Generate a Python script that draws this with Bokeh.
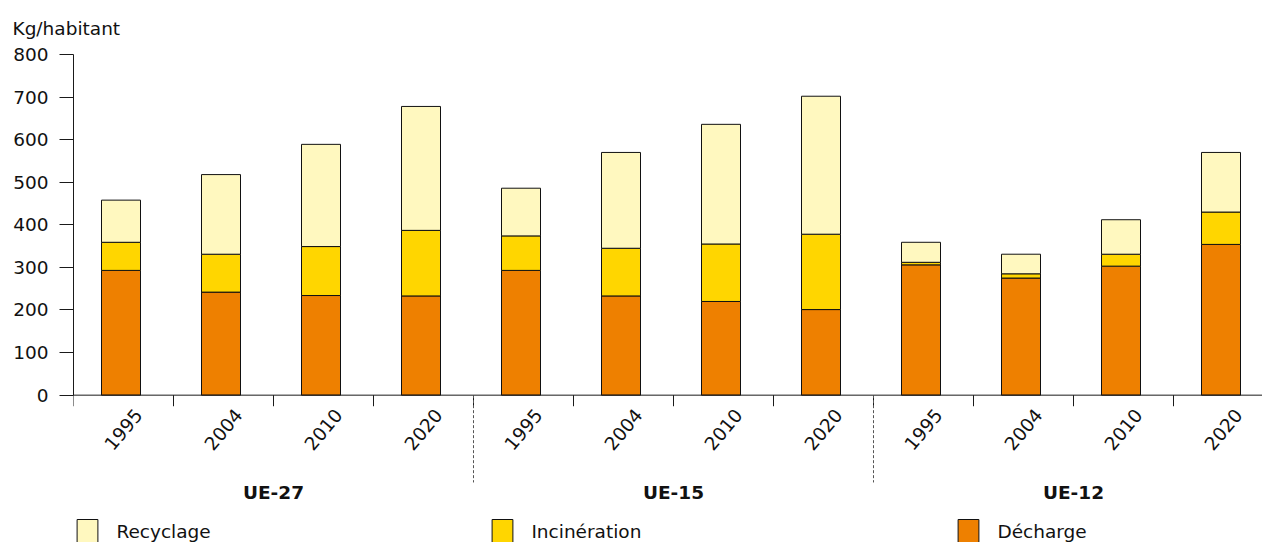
from bokeh.plotting import figure
from bokeh.models import (ColumnDataSource, Range1d, FixedTicker, Legend, LegendItem)
from bokeh.core.properties import value
from bokeh.embed import file_html
from bokeh.resources import INLINE

# ---- data (kg per inhabitant) ----
groups = ["UE-27", "UE-15", "UE-12"]
years = ["1995", "2004", "2010", "2020"]
decharge = [293, 242, 234, 233, 293, 233, 220, 201, 306, 275, 303, 354]
incineration = [66, 89, 115, 154, 81, 112, 135, 177, 6, 10, 28, 76]
recyclage = [99, 187, 240, 291, 112, 225, 281, 324, 47, 46, 81, 140]
series_labels = ["Décharge", "Incinération", "Recyclage"]
y_ticks = [0, 100, 200, 300, 400, 500, 600, 700, 800]

FONT = "DejaVu Sans"
FS = "18.5px"
TXT = "#111111"
colors = ["#EE8000", "#FFD600", "#FFF8BF"]

n = len(groups) * len(years)
idx = list(range(n))
bar_x = [i + 0.475 for i in idx]
year_labels = years * len(groups)

src = ColumnDataSource(dict(x=bar_x, decharge=decharge,
                            incineration=incineration, recyclage=recyclage))

x_end = 11.89
p = figure(width=1262, height=542, output_backend="svg", toolbar_location=None,
           x_range=Range1d(0, x_end), y_range=Range1d(-346, 800),
           x_axis_location=None, min_border_left=73, min_border_right=0,
           min_border_top=54, min_border_bottom=0)
p.outline_line_color = None
p.grid.visible = False
p.background_fill_color = "white"

# title (unit label)
p.title.text = "Kg/habitant"
p.title.text_font = FONT
p.title.text_font_size = FS
p.title.text_font_style = "normal"
p.title.text_color = TXT
p.title.align = "left"
p.title.offset = -61
p.title.standoff = 31

# y axis
ya = p.yaxis[0]
ya.bounds = (0, 800)
ya.ticker = FixedTicker(ticks=y_ticks)
ya.major_label_text_font = FONT
ya.major_label_text_font_size = FS
ya.major_label_text_color = TXT
ya.major_label_standoff = 11
ya.major_tick_out = 14
ya.major_tick_in = 0
ya.minor_tick_out = 0
ya.minor_tick_in = 0
ya.axis_line_color = "#1a1a1a"
ya.major_tick_line_color = "#1a1a1a"

# stacked bars
renderers = p.vbar_stack(["decharge", "incineration", "recyclage"], x="x", width=0.39,
                         source=src, fill_color=colors, line_color="#111111",
                         line_width=1)

# manual x axis line and boundary ticks
tick_len = 26
p.segment(x0=[0], y0=[0], x1=[x_end], y1=[0], line_color="#1a1a1a", line_width=1)
bounds = list(range(n))
p.segment(x0=bounds, y0=[0] * n, x1=bounds, y1=[-tick_len] * n,
          line_color="#1a1a1a", line_width=1)

# dashed group separators
seps = [len(years) * g for g in range(1, len(groups))]
p.segment(x0=seps, y0=[0] * len(seps), x1=seps, y1=[-205] * len(seps),
          line_color="#555555", line_width=1, line_dash="3 2")

# year labels
p.text(x=[i + 0.5 for i in idx], y=[-81] * n, text=year_labels, angle=50,
       angle_units="deg", text_align="center", text_baseline="middle",
       text_font=value(FONT), text_font_size=value(FS), text_color=TXT)

# group labels
p.text(x=[len(years) * g + len(years) / 2 for g in range(len(groups))],
       y=[-229] * len(groups), text=groups, text_align="center",
       text_baseline="middle", text_font=value(FONT), text_font_size=value(FS),
       text_font_style="bold", text_color=TXT)

# legends
legend_pos = {"Recyclage": (1.4, -4), "Incinération": (416.4, -4),
              "Décharge": (882.4, -4)}
for r, lab in zip(renderers, series_labels):
    lg = Legend(items=[LegendItem(label=lab, renderers=[r])],
                location=legend_pos[lab], orientation="horizontal",
                glyph_width=26, glyph_height=30, label_standoff=16,
                padding=0, margin=0, spacing=0, border_line_color=None,
                background_fill_alpha=0, label_text_font=FONT,
                label_text_font_size=FS, label_text_color=TXT)
    p.add_layout(lg, "center")

open("out.html", "w").write(file_html(p, INLINE))
